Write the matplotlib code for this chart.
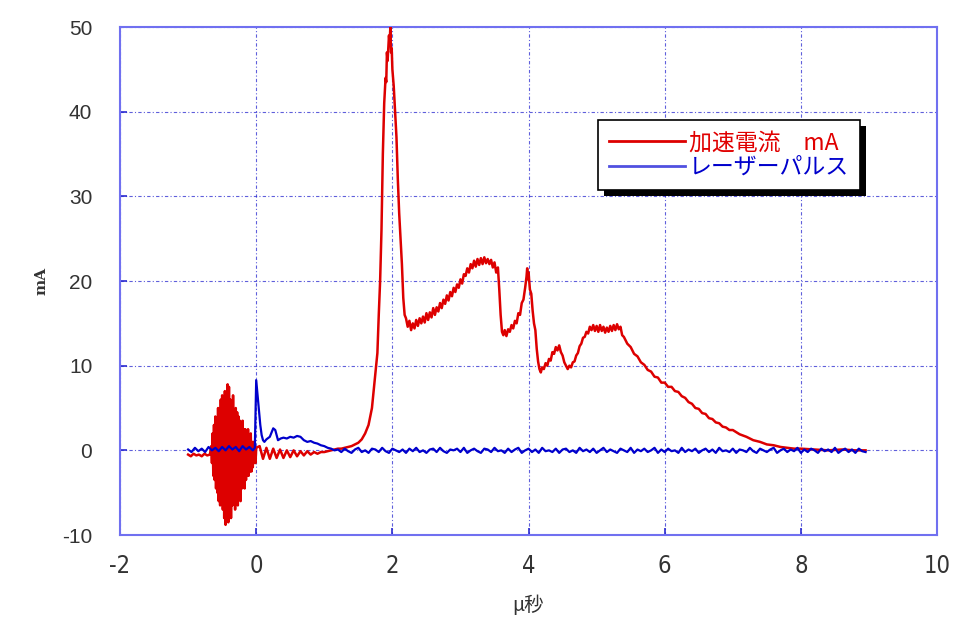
import matplotlib
matplotlib.use("Agg")
import matplotlib.pyplot as plt
import matplotlib.patheffects as pe

# 加速電流 (red), (μs, mA)
red_pts = [
    (-1.00, -0.5), (-0.96, -0.7), (-0.92, -0.4), (-0.88, -0.6), (-0.84, -0.5),
    (-0.80, -0.7), (-0.76, -0.4), (-0.72, -0.6), (-0.68, -0.5),
    # burst before the laser pulse
    (-0.66, 0.5), (-0.65, -1.5), (-0.64, 2.0), (-0.63, -3.0), (-0.62, 3.0),
    (-0.61, -3.5), (-0.60, 4.0), (-0.59, -4.5), (-0.58, 3.5), (-0.57, -5.0),
    (-0.56, 5.0), (-0.55, -6.0), (-0.54, 4.5), (-0.53, -6.5), (-0.52, 6.0),
    (-0.51, -5.5), (-0.50, 6.5), (-0.49, -7.0), (-0.48, 5.5), (-0.47, -8.0),
    (-0.46, 7.0), (-0.45, -8.8), (-0.44, 6.0), (-0.43, -7.5), (-0.42, 7.8),
    (-0.41, -8.5), (-0.40, 7.5), (-0.39, -7.0), (-0.38, 6.0), (-0.37, -8.0),
    (-0.36, 5.5), (-0.35, -6.5), (-0.34, 6.5), (-0.33, -6.0), (-0.32, 4.5),
    (-0.31, -7.0), (-0.30, 5.0), (-0.29, -5.5), (-0.28, 4.5), (-0.27, -6.5),
    (-0.26, 4.0), (-0.25, -5.0), (-0.24, 3.5), (-0.23, -6.0), (-0.22, 3.0),
    (-0.21, -4.5), (-0.20, 3.5), (-0.19, -4.0), (-0.18, 2.5), (-0.17, -4.5),
    (-0.16, 2.5), (-0.15, -3.5), (-0.14, 2.0), (-0.13, -3.0), (-0.12, 2.5),
    (-0.11, -3.0), (-0.10, 1.5), (-0.09, -2.5), (-0.08, 2.0), (-0.07, -2.5),
    (-0.06, 1.0), (-0.05, -2.0), (-0.04, 1.0), (-0.03, -1.5), (-0.02, 0.5),
    (-0.01, -1.5), (0.00, 0.3),
    (0.05, 0.5), (0.10, -1.0), (0.15, 0.3), (0.20, -1.0), (0.25, 0.2),
    (0.30, -0.9), (0.35, 0.1), (0.40, -0.9), (0.45, 0.0), (0.50, -0.8),
    (0.55, 0.0), (0.60, -0.7), (0.65, -0.1), (0.70, -0.6), (0.75, -0.1),
    (0.80, -0.5), (0.85, -0.2), (0.90, -0.4), (0.95, -0.2), (1.00, -0.2),
    (1.05, -0.1), (1.10, 0.0), (1.15, 0.1), (1.20, 0.2), (1.25, 0.2),
    (1.30, 0.3), (1.35, 0.4), (1.40, 0.5), (1.45, 0.7), (1.50, 0.9),
    (1.55, 1.3), (1.60, 2.0), (1.65, 3.0), (1.70, 5.0), (1.75, 9.0),
    # main peak
    (1.78, 11.5), (1.80, 16.0), (1.82, 20.0), (1.84, 26.0), (1.86, 35.0),
    (1.88, 41.0), (1.90, 44.0), (1.91, 43.5), (1.92, 47.0), (1.93, 46.0),
    (1.95, 49.0), (1.96, 48.0), (1.97, 50.0), (1.98, 47.0), (1.99, 47.5),
    (2.00, 45.0), (2.02, 43.0), (2.04, 40.0), (2.06, 37.0), (2.08, 32.0),
    (2.10, 28.0), (2.12, 25.0), (2.14, 22.0), (2.16, 18.0), (2.18, 16.0),
    # first hump
    (2.200, 15.6), (2.225, 14.6), (2.250, 15.3), (2.275, 14.2), (2.300, 15.0),
    (2.325, 14.4), (2.350, 15.4), (2.375, 14.7), (2.400, 15.6), (2.425, 15.0),
    (2.450, 15.8), (2.475, 15.1), (2.500, 16.2), (2.525, 15.4), (2.550, 16.3),
    (2.575, 15.7), (2.600, 16.8), (2.625, 16.0), (2.650, 16.9), (2.675, 16.4),
    (2.700, 17.4), (2.725, 16.8), (2.750, 17.8), (2.775, 17.3), (2.800, 18.3),
    (2.825, 17.7), (2.850, 18.7), (2.875, 18.2), (2.900, 19.2), (2.925, 18.7),
    (2.950, 19.6), (2.975, 19.2), (3.000, 20.2), (3.025, 19.7), (3.050, 20.8),
    (3.075, 20.6), (3.100, 21.5), (3.125, 21.0), (3.150, 22.0), (3.175, 21.5),
    (3.200, 22.4), (3.225, 21.7), (3.250, 22.6), (3.275, 21.9), (3.300, 22.7),
    (3.325, 22.0), (3.350, 22.8), (3.375, 22.1), (3.400, 22.6), (3.425, 22.0),
    (3.450, 22.5), (3.475, 21.6), (3.500, 22.2), (3.525, 21.0), (3.550, 21.6),
    (3.57, 19.0), (3.59, 16.0), (3.61, 14.0), (3.63, 13.6), (3.65, 14.2),
    (3.675, 13.5), (3.70, 14.3), (3.725, 14.0), (3.75, 14.8), (3.775, 14.4),
    (3.80, 15.3), (3.825, 15.0), (3.85, 16.2), (3.875, 16.0), (3.90, 17.4),
    (3.925, 17.8), (3.95, 19.2), (3.97, 20.5), (3.98, 21.5), (3.99, 20.2),
    (4.00, 21.0), (4.02, 19.0), (4.04, 18.5), (4.06, 16.5), (4.08, 15.0),
    (4.10, 14.2), (4.12, 12.0), (4.14, 10.5), (4.16, 9.6), (4.18, 9.2),
    (4.20, 9.8), (4.225, 9.6), (4.25, 10.3), (4.275, 10.0), (4.30, 10.8),
    (4.325, 10.6), (4.35, 11.6), (4.375, 11.4), (4.40, 12.2), (4.425, 11.8),
    (4.45, 12.4), (4.475, 11.6), (4.50, 11.2), (4.525, 10.4), (4.55, 10.0),
    (4.575, 9.6), (4.60, 10.0), (4.625, 9.8), (4.65, 10.4), (4.675, 10.5),
    (4.70, 11.2), (4.725, 11.5), (4.75, 12.3), (4.775, 12.6), (4.80, 13.3),
    (4.825, 13.4), (4.85, 14.0), (4.875, 13.8), (4.90, 14.6), (4.925, 14.2),
    (4.95, 14.8), (4.975, 14.1), (5.00, 14.7), (5.025, 14.0), (5.05, 14.8),
    (5.075, 14.1), (5.10, 14.6), (5.125, 13.9), (5.15, 14.5), (5.175, 14.0),
    (5.20, 14.7), (5.225, 14.1), (5.25, 14.8), (5.275, 14.2), (5.30, 14.9),
    (5.325, 14.3), (5.35, 14.6), (5.375, 13.6), (5.40, 13.4), (5.45, 12.6),
    # decay
    (5.50, 12.2), (5.55, 11.4), (5.60, 11.1), (5.65, 10.4), (5.70, 10.1),
    (5.75, 9.5), (5.80, 9.3), (5.85, 8.7), (5.90, 8.6), (5.95, 8.0),
    (6.00, 8.0), (6.05, 7.5), (6.10, 7.5), (6.15, 7.0), (6.20, 6.9),
    (6.25, 6.4), (6.30, 6.2), (6.35, 5.7), (6.40, 5.5), (6.45, 5.0),
    (6.50, 4.9), (6.55, 4.4), (6.60, 4.3), (6.65, 3.8), (6.70, 3.7),
    (6.75, 3.3), (6.80, 3.2), (6.85, 2.8), (6.90, 2.7), (6.95, 2.4),
    (7.00, 2.4), (7.10, 1.9), (7.20, 1.6), (7.30, 1.2), (7.40, 1.0),
    (7.50, 0.7), (7.60, 0.6), (7.70, 0.4), (7.80, 0.3), (7.90, 0.2),
    (8.00, 0.2), (8.20, 0.1), (8.40, 0.0), (8.60, 0.1), (8.80, 0.0),
    (8.95, 0.0),
]

# レーザーパルス (blue)
blue_pts = [
    (-1.00, 0.1), (-0.95, -0.2), (-0.90, 0.3), (-0.85, -0.1), (-0.80, 0.2),
    (-0.75, -0.2), (-0.70, 0.4), (-0.65, 0.0), (-0.60, 0.3), (-0.55, -0.1),
    (-0.50, 0.4), (-0.45, 0.0), (-0.40, 0.5), (-0.35, 0.1), (-0.30, 0.4),
    (-0.25, -0.1), (-0.20, 0.5), (-0.15, 0.1), (-0.10, 0.4), (-0.05, 0.0),
    (-0.02, 0.3),
    # pulse
    (0.00, 8.3), (0.02, 6.5), (0.04, 4.8), (0.06, 3.0), (0.08, 1.8),
    (0.10, 1.2), (0.12, 1.0), (0.15, 1.3), (0.20, 1.6), (0.25, 2.6),
    (0.28, 2.4), (0.32, 1.2), (0.36, 1.4), (0.40, 1.5), (0.45, 1.4),
    (0.50, 1.6), (0.55, 1.5), (0.60, 1.7), (0.65, 1.6), (0.70, 1.2),
    (0.75, 1.0), (0.80, 1.1), (0.85, 0.9), (0.90, 0.8), (0.95, 0.6),
    (1.00, 0.5), (1.05, 0.3), (1.10, 0.2), (1.15, 0.0),
    # noise floor
    (1.20, 0.1), (1.25, -0.2), (1.30, 0.2), (1.35, -0.1), (1.40, -0.3),
    (1.45, 0.1), (1.50, 0.3), (1.55, -0.2), (1.60, 0.0), (1.65, -0.3),
    (1.70, 0.2), (1.75, 0.1), (1.80, -0.2), (1.85, 0.3), (1.90, -0.1),
    (1.95, -0.3), (2.00, 0.2), (2.05, 0.0), (2.10, -0.2), (2.15, 0.1),
    (2.20, -0.3), (2.25, 0.2), (2.30, -0.1), (2.35, 0.3), (2.40, -0.2),
    (2.45, 0.0), (2.50, -0.3), (2.55, 0.1), (2.60, 0.2), (2.65, -0.2),
    (2.70, 0.3), (2.75, -0.1), (2.80, -0.3), (2.85, 0.1), (2.90, 0.0),
    (2.95, 0.2), (3.00, -0.2), (3.05, 0.3), (3.10, -0.3), (3.15, 0.0),
    (3.20, 0.2), (3.25, -0.1), (3.30, -0.3), (3.35, 0.2), (3.40, 0.1),
    (3.45, -0.2), (3.50, 0.3), (3.55, -0.1), (3.60, 0.0), (3.65, -0.3),
    (3.70, 0.2), (3.75, -0.2), (3.80, 0.1), (3.85, 0.3), (3.90, -0.3),
    (3.95, 0.0), (4.00, 0.2), (4.05, -0.2), (4.10, 0.1), (4.15, -0.3),
    (4.20, 0.3), (4.25, -0.1), (4.30, 0.0), (4.35, -0.2), (4.40, 0.2),
    (4.45, -0.3), (4.50, 0.1), (4.55, 0.2), (4.60, -0.2), (4.65, 0.0),
    (4.70, -0.3), (4.75, 0.3), (4.80, -0.1), (4.85, 0.1), (4.90, -0.2),
    (4.95, 0.2), (5.00, -0.3), (5.05, 0.0), (5.10, 0.3), (5.15, -0.2),
    (5.20, 0.1), (5.25, -0.1), (5.30, -0.3), (5.35, 0.2), (5.40, 0.0),
    (5.45, -0.2), (5.50, 0.3), (5.55, -0.3), (5.60, 0.1), (5.65, -0.1),
    (5.70, 0.2), (5.75, -0.2), (5.80, 0.0), (5.85, 0.3), (5.90, -0.3),
    (5.95, 0.1), (6.00, -0.2), (6.05, 0.2), (6.10, -0.1), (6.15, 0.0),
    (6.20, -0.3), (6.25, 0.3), (6.30, -0.2), (6.35, 0.1), (6.40, -0.1),
    (6.45, 0.2), (6.50, -0.3), (6.55, 0.0), (6.60, 0.2), (6.65, -0.2),
    (6.70, 0.1), (6.75, -0.3), (6.80, 0.3), (6.85, -0.1), (6.90, 0.0),
    (6.95, -0.2), (7.00, 0.2), (7.05, -0.3), (7.10, 0.1), (7.15, 0.0),
    (7.20, -0.2), (7.25, 0.3), (7.30, -0.1), (7.35, -0.3), (7.40, 0.2),
    (7.45, 0.0), (7.50, -0.2), (7.55, 0.1), (7.60, 0.3), (7.65, -0.3),
    (7.70, 0.0), (7.75, 0.2), (7.80, -0.2), (7.85, 0.1), (7.90, -0.1),
    (7.95, 0.3), (8.00, -0.3), (8.05, 0.1), (8.10, -0.2), (8.15, 0.2),
    (8.20, 0.0), (8.25, -0.3), (8.30, 0.2), (8.35, -0.1), (8.40, 0.1),
    (8.45, -0.2), (8.50, 0.3), (8.55, -0.3), (8.60, 0.0), (8.65, 0.2),
    (8.70, -0.2), (8.75, 0.1), (8.80, -0.3), (8.85, 0.2), (8.90, -0.1),
    (8.95, -0.2),
]

x_ticks = [-2, 0, 2, 4, 6, 8, 10]
y_ticks = [-10, 0, 10, 20, 30, 40, 50]
labels = ["加速電流　mA", "レーザーパルス"]

red_x, red_y = zip(*red_pts)
blue_x, blue_y = zip(*blue_pts)

fig = plt.figure(figsize=(9.61, 6.24), dpi=100)
ax = fig.add_axes([0.1249, 0.1426, 0.8502, 0.8141])

frame_blue = "#7070f0"
grid_blue = "#2a2ad0"

ax.plot(red_x, red_y, color="#dd0000", lw=1.8, zorder=3)
ax.plot(blue_x, blue_y, color="#0000cc", lw=1.6, zorder=4)

ax.set_xlim(-2, 10)
ax.set_ylim(-10, 50)
ax.set_xticks(x_ticks)
ax.set_yticks(y_ticks)
ax.grid(True, color=grid_blue, lw=0.8, alpha=0.75, linestyle=(0, (3, 2, 1, 2)))
ax.set_axisbelow(True)

for s in ax.spines.values():
    s.set_color(frame_blue)
    s.set_linewidth(1.5)

ax.tick_params(direction="in", length=5, color="#2a2ad0", width=1.2)
ax.set_xticklabels([str(v) for v in x_ticks], fontsize=17, color="#333333",
                   family="DejaVu Sans", fontstretch="condensed")
ax.set_yticklabels([str(v) for v in y_ticks], fontsize=15, color="#333333",
                   family=["Liberation Sans", "DejaVu Sans"])
ax.tick_params(axis="x", pad=14)
ax.tick_params(axis="y", pad=20)

ax.set_xlabel("μ秒", fontsize=14, style="italic", color="#333333",
              family=["Noto Sans CJK JP", "DejaVu Sans"], labelpad=12)
ax.set_ylabel("mA", fontsize=11, color="#333333", family="DejaVu Serif",
              fontweight="bold", labelpad=10)

# legend box with a black drop shadow
leg = ax.legend(labels, loc="upper left", bbox_to_anchor=(0.585, 0.817),
                borderaxespad=0, frameon=True, fancybox=False, shadow=False,
                handlelength=3.3, handletextpad=0.15, borderpad=0.5,
                labelspacing=0.05,
                prop={"family": ["Noto Sans CJK JP", "DejaVu Sans"], "size": 16.5})
frame = leg.get_frame()
frame.set_edgecolor("black")
frame.set_linewidth(1.2)
frame.set_alpha(1.0)
frame.set_path_effects([pe.SimplePatchShadow(offset=(4, -4), shadow_rgbFace="black",
                                             alpha=1.0), pe.Normal()])
leg.get_texts()[0].set_color("#e00000")
leg.get_texts()[1].set_color("#0000cc")
leg.get_lines()[0].set_linewidth(2)
leg.get_lines()[1].set_color("#5050e0")
leg.get_lines()[1].set_linewidth(2)

fig.savefig("out.png", dpi=100)
